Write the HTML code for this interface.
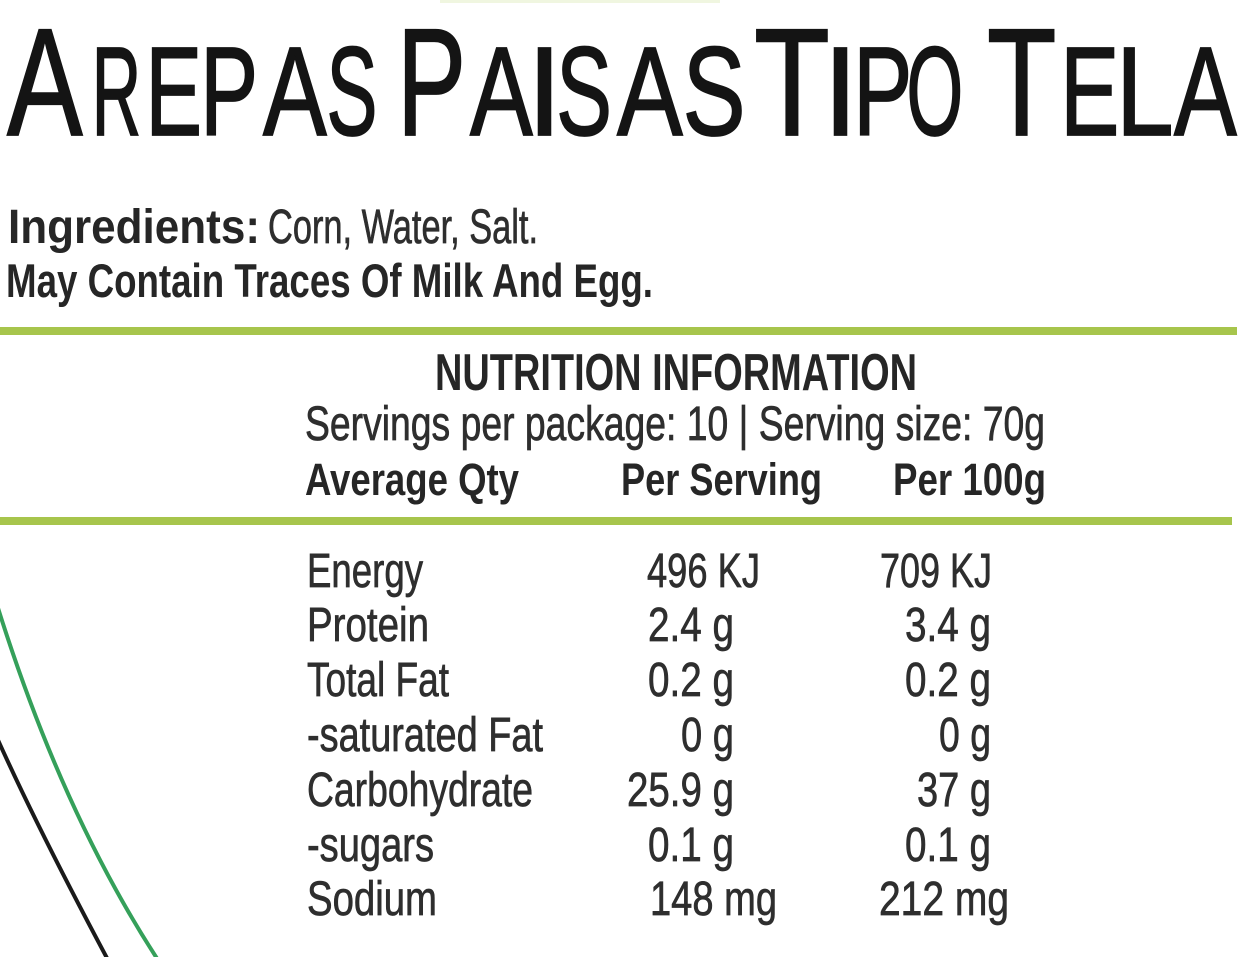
<!DOCTYPE html>
<html>
<head>
<meta charset="utf-8">
<style>
  html, body { margin: 0; padding: 0; background: #ffffff; }
  body { width: 1257px; height: 957px; overflow: hidden; }
  svg { display: block; }
  text { font-family: "Liberation Sans", "DejaVu Sans", sans-serif; }
  .t { fill: #141414; stroke: #141414; stroke-width: 1.8; }
  .b { fill: #262626; font-weight: bold; }
  .r { fill: #2e2e2e; stroke: #2e2e2e; stroke-width: 0.7; }
</style>
</head>
<body>
<svg width="1257" height="957" viewBox="0 0 1257 957" xmlns="http://www.w3.org/2000/svg">
  <rect x="0" y="0" width="1257" height="957" fill="#ffffff"/>
  <!-- faint top tint -->
  <rect x="440" y="0" width="280" height="3" fill="#f0f6e0"/>

  <!-- Title: individually placed letters -->
  <g class="t">
    <g font-size="153">
      <text x="7" y="135" textLength="75.6" lengthAdjust="spacingAndGlyphs">A</text>
      <text x="397" y="135" textLength="69.1" lengthAdjust="spacingAndGlyphs">P</text>
      <text x="754" y="135" textLength="75.9" lengthAdjust="spacingAndGlyphs">T</text>
      <text x="987" y="135" textLength="69.4" lengthAdjust="spacingAndGlyphs">T</text>
    </g>
    <g font-size="126">
      <text x="91.7" y="135" textLength="49.4" lengthAdjust="spacingAndGlyphs">R</text>
      <text x="145.5" y="135" textLength="56.5" lengthAdjust="spacingAndGlyphs">E</text>
      <text x="200.3" y="135" textLength="57.8" lengthAdjust="spacingAndGlyphs">P</text>
      <text x="263" y="135" textLength="63.7" lengthAdjust="spacingAndGlyphs">A</text>
      <text x="326.5" y="135" textLength="50.9" lengthAdjust="spacingAndGlyphs">S</text>

      <text x="470" y="135" textLength="62.7" lengthAdjust="spacingAndGlyphs">A</text>
      <text x="527" y="135" textLength="35" lengthAdjust="spacingAndGlyphs">I</text>
      <text x="556.2" y="135" textLength="55.6" lengthAdjust="spacingAndGlyphs">S</text>
      <text x="617" y="135" textLength="65.7" lengthAdjust="spacingAndGlyphs">A</text>
      <text x="682.7" y="135" textLength="62.7" lengthAdjust="spacingAndGlyphs">S</text>

      <text x="823" y="135" textLength="35" lengthAdjust="spacingAndGlyphs">I</text>
      <text x="853.2" y="135" textLength="59.0" lengthAdjust="spacingAndGlyphs">P</text>
      <text x="906.5" y="135" textLength="56.7" lengthAdjust="spacingAndGlyphs">O</text>

      <text x="1060.2" y="135" textLength="59.0" lengthAdjust="spacingAndGlyphs">E</text>
      <text x="1116" y="135" textLength="57.7" lengthAdjust="spacingAndGlyphs">L</text>
      <text x="1174" y="135" textLength="62.7" lengthAdjust="spacingAndGlyphs">A</text>
    </g>
  </g>

  <!-- Ingredients -->
  <text class="b" x="8" y="243" font-size="48" textLength="252" lengthAdjust="spacingAndGlyphs">Ingredients:</text>
  <text class="r" x="268" y="243" font-size="48" textLength="270" lengthAdjust="spacingAndGlyphs">Corn, Water, Salt.</text>
  <text class="b" x="6" y="297" font-size="47" textLength="647" lengthAdjust="spacingAndGlyphs">May Contain Traces Of Milk And Egg.</text>

  <!-- green lines -->
  <rect x="0" y="327" width="1237" height="8" fill="#a7c54c"/>
  <rect x="0" y="517" width="1232" height="8" fill="#a7c54c"/>

  <!-- Nutrition header -->
  <text class="b" x="435" y="390" font-size="52" textLength="482" lengthAdjust="spacingAndGlyphs">NUTRITION INFORMATION</text>
  <text class="r" x="305" y="440" font-size="48" textLength="740" lengthAdjust="spacingAndGlyphs">Servings per package: 10 | Serving size: 70g</text>
  <text class="b" x="305" y="495" font-size="45" textLength="214" lengthAdjust="spacingAndGlyphs">Average Qty</text>
  <text class="b" x="621" y="495" font-size="45" textLength="201" lengthAdjust="spacingAndGlyphs">Per Serving</text>
  <text class="b" x="893" y="495" font-size="45" textLength="153" lengthAdjust="spacingAndGlyphs">Per 100g</text>

  <!-- Rows -->
  <g class="r" font-size="48">
    <text x="307" y="587" textLength="116" lengthAdjust="spacingAndGlyphs">Energy</text>
    <text x="647" y="587" textLength="113" lengthAdjust="spacingAndGlyphs">496 KJ</text>
    <text x="880" y="587" textLength="112" lengthAdjust="spacingAndGlyphs">709 KJ</text>

    <text x="307" y="641" textLength="122" lengthAdjust="spacingAndGlyphs">Protein</text>
    <text x="648" y="641" textLength="86" lengthAdjust="spacingAndGlyphs">2.4 g</text>
    <text x="905" y="641" textLength="86" lengthAdjust="spacingAndGlyphs">3.4 g</text>

    <text x="307" y="696" textLength="142" lengthAdjust="spacingAndGlyphs">Total Fat</text>
    <text x="648" y="696" textLength="86" lengthAdjust="spacingAndGlyphs">0.2 g</text>
    <text x="905" y="696" textLength="86" lengthAdjust="spacingAndGlyphs">0.2 g</text>

    <text x="307" y="751" textLength="236" lengthAdjust="spacingAndGlyphs">-saturated Fat</text>
    <text x="681" y="751" textLength="53" lengthAdjust="spacingAndGlyphs">0 g</text>
    <text x="939" y="751" textLength="52" lengthAdjust="spacingAndGlyphs">0 g</text>

    <text x="307" y="806" textLength="226" lengthAdjust="spacingAndGlyphs">Carbohydrate</text>
    <text x="627" y="806" textLength="107" lengthAdjust="spacingAndGlyphs">25.9 g</text>
    <text x="917" y="806" textLength="74" lengthAdjust="spacingAndGlyphs">37 g</text>

    <text x="307" y="861" textLength="127" lengthAdjust="spacingAndGlyphs">-sugars</text>
    <text x="648" y="861" textLength="86" lengthAdjust="spacingAndGlyphs">0.1 g</text>
    <text x="905" y="861" textLength="86" lengthAdjust="spacingAndGlyphs">0.1 g</text>

    <text x="307" y="915" textLength="130" lengthAdjust="spacingAndGlyphs">Sodium</text>
    <text x="650" y="915" textLength="127" lengthAdjust="spacingAndGlyphs">148 mg</text>
    <text x="879" y="915" textLength="130" lengthAdjust="spacingAndGlyphs">212 mg</text>
  </g>

  <!-- decorative curves bottom-left -->
  <path d="M -2 608 C 30 710, 80 840, 158 960" fill="none" stroke="#35a05a" stroke-width="4"/>
  <path d="M -2 740 C 25 800, 60 870, 108 960" fill="none" stroke="#1a1a1a" stroke-width="4"/>
</svg>
</body>
</html>
